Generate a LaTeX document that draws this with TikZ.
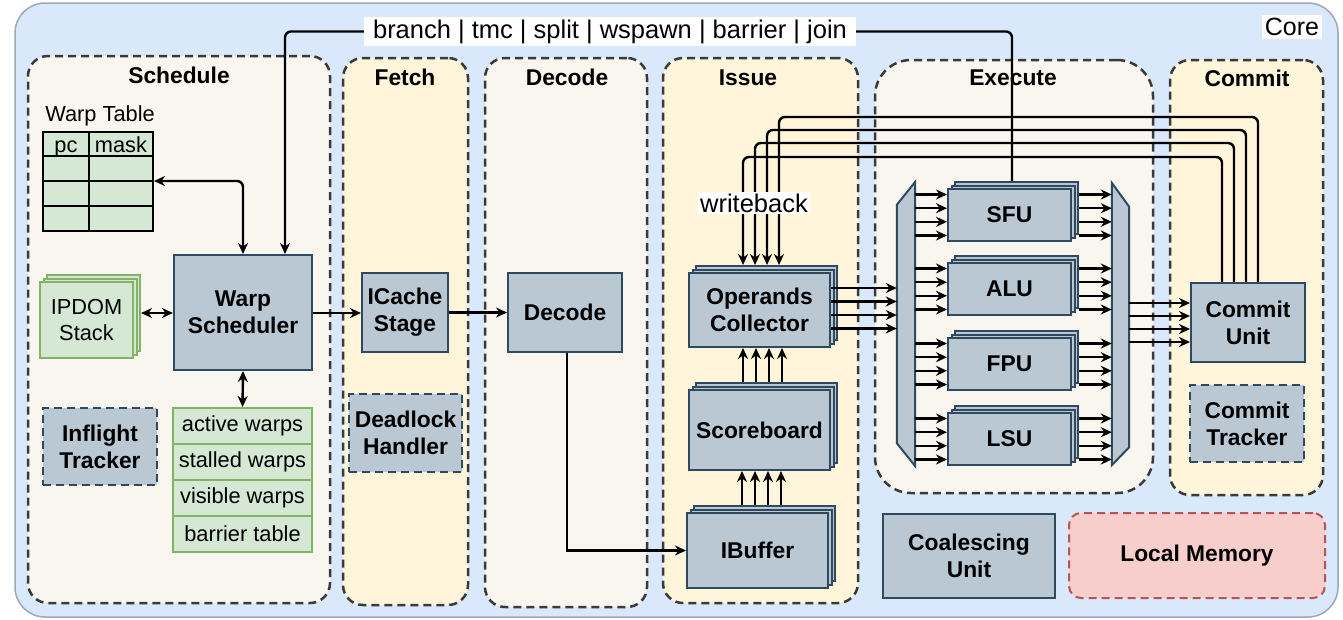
\documentclass[tikz,border=0pt]{standalone}
\usepackage{fontspec}
\setmainfont{Liberation Sans}
\usetikzlibrary{arrows.meta,shadows,calc}

\definecolor{corebg}{HTML}{DAE8FC}
\definecolor{coreline}{HTML}{9DA9B6}
\definecolor{stagewhite}{HTML}{F8F6EE}
\definecolor{stageyellow}{HTML}{FEF5DA}
\definecolor{unitfill}{HTML}{BAC8D3}
\definecolor{unitline}{HTML}{2F4A5E}
\definecolor{greenfill}{HTML}{D5E8D4}
\definecolor{greenline}{HTML}{82B366}
\definecolor{memfill}{HTML}{F8CECC}
\definecolor{memline}{HTML}{B85450}
\definecolor{dashgray}{HTML}{3A3A3A}

\begin{document}
\begin{tikzpicture}[x=1pt,y=-1pt,
  bfont/.style={font=\fontsize{22.8}{27}\selectfont\bfseries},
  rfont/.style={font=\fontsize{21.8}{26}\selectfont},
  stage/.style={draw=dashgray, line width=2.5pt, dash pattern=on 8pt off 5pt,
                rounded corners=20pt, inner sep=0pt},
  stagetitle/.style={bfont, inner sep=0pt},
  unit/.style={draw=unitline, fill=unitfill, line width=2pt, inner sep=0pt,
               align=center, bfont},
  dunit/.style={unit, dash pattern=on 8pt off 5pt},
  stacked/.style={double copy shadow={shadow xshift=3.5pt, shadow yshift=3.5pt}},
  gcell/.style={draw=greenline, fill=greenfill, line width=2pt, inner sep=0pt,
                align=center, rfont},
  wire/.style={line width=2.4pt, black},
  arr/.style={wire, -{Stealth[length=11pt,width=10pt]}},
  biarr/.style={wire, {Stealth[length=11pt,width=10pt]}-{Stealth[length=11pt,width=10pt]}},
  tag/.style={fill=white, inner xsep=9pt, inner ysep=3pt,
              font=\fontsize{25.5}{30}\selectfont},
  mux/.style={draw=unitline, fill=unitfill, line width=2pt},
]
\useasboundingbox (0,0) rectangle (1343,619);

% ---- core frame ----
\node[draw=coreline, fill=corebg, line width=1.5pt, rounded corners=30pt,
      minimum width=1323pt, minimum height=614pt, inner sep=0pt] (core) at (676.5,310) {};
\node[fill=white, inner sep=3pt, font=\fontsize{25}{30}\selectfont] (corelbl) at (1292,27) {Core};

% ---- pipeline stages ----
\node[stage, fill=stagewhite, minimum width=302pt, minimum height=547pt] (sched) at (179,329.5) {};
\node[stage, fill=stageyellow, minimum width=125pt, minimum height=547pt] (fetch) at (405.5,331.5) {};
\node[stage, fill=stagewhite, minimum width=162pt, minimum height=549pt] (dec) at (566,332.5) {};
\node[stage, fill=stageyellow, minimum width=195pt, minimum height=545pt] (issue) at (760.5,330.5) {};
\node[stage, fill=stagewhite, minimum width=278pt, minimum height=433pt, rounded corners=36pt] (exec) at (1014,276.5) {};
\node[stage, fill=stageyellow, minimum width=153pt, minimum height=435pt] (commit) at (1246.5,277.5) {};

\node[stagetitle] at (179,75) {Schedule};
\node[stagetitle] at (405,77) {Fetch};
\node[stagetitle] at (567,77) {Decode};
\node[stagetitle] at (748,78) {Issue};
\node[stagetitle] at (1013,78) {Execute};
\node[stagetitle] at (1247,78) {Commit};

% ---- schedule stage ----
\node[rfont, inner sep=0pt] (wtlbl) at (100,116) {Warp Table};
\node[draw=black, fill=greenfill, line width=2pt, minimum width=110pt,
      minimum height=99pt, inner sep=0pt] (wt) at (98,181.5) {};
\draw[line width=2pt] (89,132) -- (89,231);
\foreach \ry in {156,181,206} \draw[line width=2pt] (43,\ry) -- (153,\ry);
\node[rfont, inner sep=0pt, anchor=base] at (66,152) {pc};
\node[rfont, inner sep=0pt, anchor=base] at (121,152) {mask};

\node[unit, minimum width=138pt, minimum height=115pt] (ws) at (243,312.5) {Warp\\Scheduler};
\node[gcell, stacked, minimum width=93pt, minimum height=76pt] (ipdom) at (86.5,320) {IPDOM\\Stack};

\node[gcell, minimum width=139pt, minimum height=36pt] (st1) at (242.5,426) {active warps};
\node[gcell, minimum width=139pt, minimum height=36pt] (st2) at (242.5,462) {stalled warps};
\node[gcell, minimum width=139pt, minimum height=36pt] (st3) at (242.5,498) {visible warps};
\node[gcell, minimum width=139pt, minimum height=36pt] (st4) at (242.5,534) {barrier table};

\node[dunit, minimum width=114pt, minimum height=77pt] (inflight) at (100,446.5) {Inflight\\Tracker};

% ---- fetch / decode ----
\node[unit, minimum width=86pt, minimum height=79pt] (icache) at (405,312.5) {ICache\\Stage};
\node[dunit, minimum width=113pt, minimum height=78pt] (deadlock) at (405.5,433) {Deadlock\\Handler};
\node[unit, minimum width=114pt, minimum height=79pt] (decode) at (565,312.5) {Decode};

% ---- issue ----
\node[unit, stacked, minimum width=141pt, minimum height=74pt] (oc) at (759.5,310) {Operands\\Collector};
\node[unit, stacked, minimum width=141pt, minimum height=80pt] (sb) at (759.5,430) {Scoreboard};
\node[unit, stacked, minimum width=141pt, minimum height=75pt] (ib) at (757.5,550.5) {IBuffer};

% ---- execute ----
\node[minimum width=18pt, minimum height=284pt, inner sep=0pt] (lmux) at (906,324) {};
\draw[mux] ($(lmux.north west)+(0,23)$) -- (lmux.north east) -- (lmux.south east)
           -- ($(lmux.south west)+(0,-23)$) -- cycle;
\node[minimum width=17pt, minimum height=282pt, inner sep=0pt] (rmux) at (1120.5,324) {};
\draw[mux] (rmux.north west) -- ($(rmux.north east)+(0,24)$)
           -- ($(rmux.south east)+(0,-18)$) -- (rmux.south west) -- cycle;

\node[unit, stacked, minimum width=123pt, minimum height=52pt] (sfu) at (1009.5,215) {SFU};
\node[unit, stacked, minimum width=123pt, minimum height=52pt] (alu) at (1009.5,289) {ALU};
\node[unit, stacked, minimum width=123pt, minimum height=52pt] (fpu) at (1009.5,364) {FPU};
\node[unit, stacked, minimum width=123pt, minimum height=52pt] (lsu) at (1009.5,439) {LSU};

% ---- commit ----
\node[unit, minimum width=114pt, minimum height=79pt] (cu) at (1248,322.5) {Commit\\Unit};
\node[dunit, minimum width=114pt, minimum height=77pt] (ct) at (1247,423.5) {Commit\\Tracker};

% ---- memory side ----
\node[unit, minimum width=172pt, minimum height=84pt] (coal) at (969,556) {Coalescing\\Unit};
\node[draw=memline, fill=memfill, line width=2pt, dash pattern=on 8pt off 5pt,
      rounded corners=12pt, minimum width=256pt, minimum height=85pt, inner sep=0pt,
      bfont] (lm) at (1197,555.5) {Local Memory};

% ---- connectors: schedule / fetch / decode ----
\draw[biarr, rounded corners=6pt] (wt.east |- 0,181) -| (ws.north);
\draw[biarr] ([xshift=7pt]ipdom.east |- 0,313) -- (ws.west |- 0,313);
\draw[biarr] (ws.south) -- (st1.north);
\draw[arr] (ws.east |- 0,313) -- (icache.west |- 0,313);
\draw[arr] (icache.east) -- (decode.west);
\draw[arr] (decode.south -| 567,0) |- (ib.west);

% ---- issue stage internal arrows ----
\foreach \x in {742,755,768,781}
  \draw[arr] ([yshift=7pt]ib.north -| \x,0) -- (sb.south -| \x,0);
\foreach \x in {743,756,769,782}
  \draw[arr] ([yshift=7pt]sb.north -| \x,0) -- (oc.south -| \x,0);

% ---- operands collector to dispatch ----
\foreach \d in {-22,-8.5,5,18.5} {
  \path ($(oc.east)+(0,\d)$) coordinate (s);
  \draw[arr] (s) -- (s -| lmux.west);
}

% ---- dispatch to units, units to gather ----
\foreach \u in {sfu,alu,fpu,lsu} {
  \foreach \d in {-20.5,-6.8,6.8,20.5} {
    \path ($(\u.west)+(0,\d)$) coordinate (t);
    \draw[arr] (t -| lmux.east) -- (t);
    \path ($(\u.east)+(7,\d)$) coordinate (s);
    \draw[arr] (s) -- (s -| rmux.west);
  }
}

% ---- gather to commit ----
\foreach \d in {-19.5,-6.5,6.5,19.5} {
  \path ($(cu.west)+(0,\d)$) coordinate (t);
  \draw[arr] (t -| rmux.east) -- (t);
}

% ---- writeback buses ----
\foreach \ox/\cx/\hy in {743/1222/157, 755/1234/143, 767/1246/130, 779/1258/117}
  \draw[arr, rounded corners=6pt] (cu.north -| \cx,0) -- (\cx,\hy) -- (\ox,\hy)
        -- ([yshift=7pt]oc.north -| \ox,0);
\node[fill=white, inner xsep=2pt, inner ysep=2pt, font=\fontsize{25.5}{30}\selectfont]
  (wb) at (754,203) {writeback};

% ---- control flow instructions ----
\node[tag] (ctl) at (610,31.5) {branch | tmc | split | wspawn | barrier | join};
\draw[arr, rounded corners=6pt] (ctl.west) -| (ws.north -| 285,0);
\draw[wire, rounded corners=6pt] (ctl.east) -| ([yshift=7pt]sfu.north -| 1012,0);

\end{tikzpicture}
\end{document}
